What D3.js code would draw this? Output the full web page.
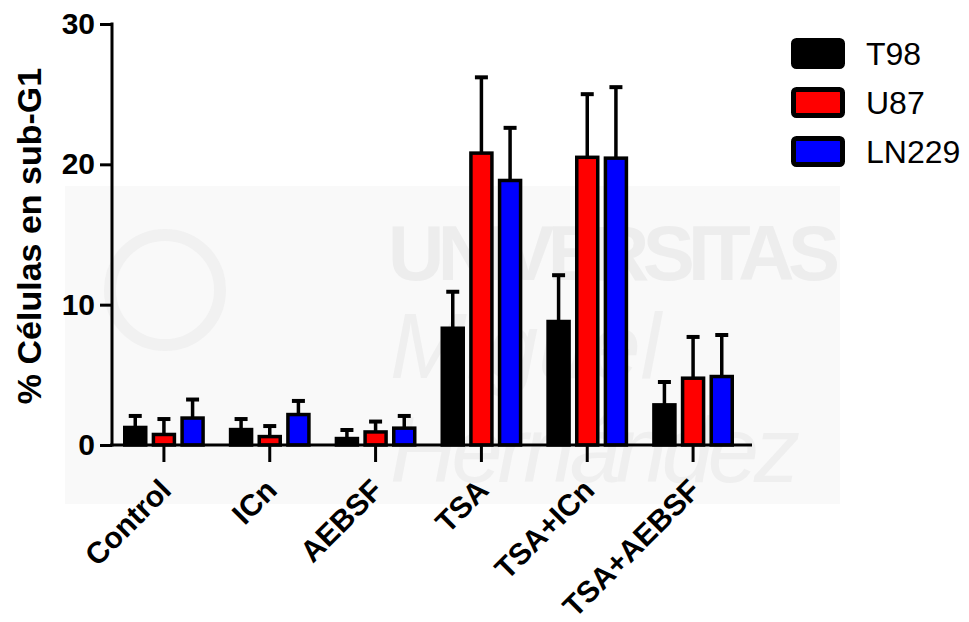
<!DOCTYPE html>
<html>
<head>
<meta charset="utf-8">
<script src="https://cdn.jsdelivr.net/npm/d3@7"></script>
<style>
  body { margin: 0; background: #fff; }
  text { font-family: "Liberation Sans", Arial, sans-serif; }
</style>
</head>
<body>
<div id="chart"></div>
<script>
// chart data
var groups = ["Control", "ICn", "AEBSF", "TSA", "TSA+ICn", "TSA+AEBSF"];
var series = ["T98", "U87", "LN229"];
var colors = ["#000000", "#ff0000", "#0000ff"];
var t98Mean = [1.25, 1.1, 0.46, 8.32, 8.8, 2.86];
var t98Sd = [0.82, 0.75, 0.61, 2.6, 3.3, 1.63];
var u87Mean = [0.75, 0.6, 0.93, 20.8, 20.5, 4.76];
var u87Sd = [1.1, 0.75, 0.74, 5.4, 4.5, 2.94];
var ln229Mean = [1.92, 2.17, 1.2, 18.85, 20.44, 4.88];
var ln229Sd = [1.32, 0.97, 0.87, 3.75, 5.06, 2.96];
var yTicks = [0, 10, 20, 30];

var means = [t98Mean, u87Mean, ln229Mean];
var sds = [t98Sd, u87Sd, ln229Sd];

var svgWidth = 969;
var svgHeight = 622;

var svg = d3.select("#chart")
  .append("svg")
  .attr("width", svgWidth)
  .attr("height", svgHeight);

// faint watermark behind the plot
var wm = svg.append("g");
wm.append("rect")
  .attr("x", 65).attr("y", 186)
  .attr("width", 775).attr("height", 318)
  .attr("fill", "#f9f9f9");
wm.append("circle")
  .attr("cx", 165).attr("cy", 290).attr("r", 55)
  .attr("fill", "none").attr("stroke", "#f1f1f1").attr("stroke-width", 12);
wm.append("text")
  .attr("x", 388).attr("y", 280)
  .attr("font-size", 78).attr("font-weight", "bold")
  .attr("fill", "#ededed")
  .attr("textLength", 452)
  .text("UNIVERSITAS");
wm.append("text")
  .attr("x", 390).attr("y", 378)
  .attr("font-size", 92).attr("font-style", "italic")
  .attr("font-family", "Liberation Serif, serif")
  .attr("fill", "#efefef")
  .text("Miguel");
wm.append("text")
  .attr("x", 390).attr("y", 482)
  .attr("font-size", 92).attr("font-style", "italic")
  .attr("font-family", "Liberation Serif, serif")
  .attr("fill", "#efefef")
  .attr("textLength", 410)
  .text("Hernández");

// scales
var y = d3.scaleLinear().domain([0, 30]).range([445, 24]);
var x0 = d3.scaleBand().domain(groups).range([111, 746]);
var x1 = d3.scaleBand().domain(series).range([-43, 43]);
var barW = 21;

// y axis
var yAxis = svg.append("g")
  .attr("transform", "translate(112,0)")
  .call(d3.axisLeft(y).tickValues(yTicks).tickSize(12).tickPadding(5));
yAxis.select(".domain").remove();
yAxis.selectAll(".tick line").attr("stroke", "#000").attr("stroke-width", 3);
yAxis.selectAll(".tick text")
  .attr("font-size", 30).attr("font-weight", "bold")
  .attr("font-family", "Liberation Sans, Arial, sans-serif")
  .attr("fill", "#000");
svg.append("line")
  .attr("x1", 112).attr("x2", 112)
  .attr("y1", y(30) - 1.5).attr("y2", y(0) + 1.5)
  .attr("stroke", "#000").attr("stroke-width", 3);

// bars
groups.forEach(function(g, gi) {
  var cx = x0(g) + x0.bandwidth() / 2;
  series.forEach(function(s, si) {
    var bx = cx + x1(s) + x1.bandwidth() / 2;
    var v = means[si][gi];
    var e = sds[si][gi];
    // error whisker, upward only
    svg.append("line")
      .attr("x1", bx).attr("x2", bx)
      .attr("y1", y(v)).attr("y2", y(v + e))
      .attr("stroke", "#000").attr("stroke-width", 3.5);
    svg.append("line")
      .attr("x1", bx - 6.5).attr("x2", bx + 6.5)
      .attr("y1", y(v + e)).attr("y2", y(v + e))
      .attr("stroke", "#000").attr("stroke-width", 4);
    svg.append("rect")
      .attr("x", bx - barW / 2)
      .attr("y", y(v))
      .attr("width", barW)
      .attr("height", y(0) - y(v))
      .attr("fill", colors[si])
      .attr("stroke", "#000")
      .attr("stroke-width", 3.5);
  });
});

// x axis
svg.append("line")
  .attr("x1", 110).attr("x2", 752)
  .attr("y1", y(0)).attr("y2", y(0))
  .attr("stroke", "#000").attr("stroke-width", 3);
groups.forEach(function(g) {
  var cx = x0(g) + x0.bandwidth() / 2;
  svg.append("line")
    .attr("x1", cx).attr("x2", cx)
    .attr("y1", y(0)).attr("y2", y(0) + 17)
    .attr("stroke", "#000").attr("stroke-width", 3);
  svg.append("text")
    .attr("transform", "translate(" + (cx + 9) + "," + 492 + ") rotate(-45)")
    .attr("text-anchor", "end")
    .attr("font-size", 30)
    .attr("font-weight", "bold")
    .attr("fill", "#000")
    .text(g);
});

// y axis title
svg.append("text")
  .attr("transform", "translate(41,236) rotate(-90)")
  .attr("text-anchor", "middle")
  .attr("font-size", 34)
  .attr("font-weight", "bold")
  .attr("fill", "#000")
  .text("% Células en sub-G1");

// legend
var legend = svg.append("g");
series.forEach(function(s, i) {
  legend.append("rect")
    .attr("x", 793.5).attr("y", 40.5 + i * 49)
    .attr("width", 49).attr("height", 26)
    .attr("rx", 3)
    .attr("fill", colors[i])
    .attr("stroke", "#000")
    .attr("stroke-width", 5);
  legend.append("text")
    .attr("x", 866).attr("y", 53.5 + i * 49)
    .attr("dy", "0.36em")
    .attr("font-size", 32)
    .attr("fill", "#000")
    .text(s);
});
</script>
</body>
</html>
